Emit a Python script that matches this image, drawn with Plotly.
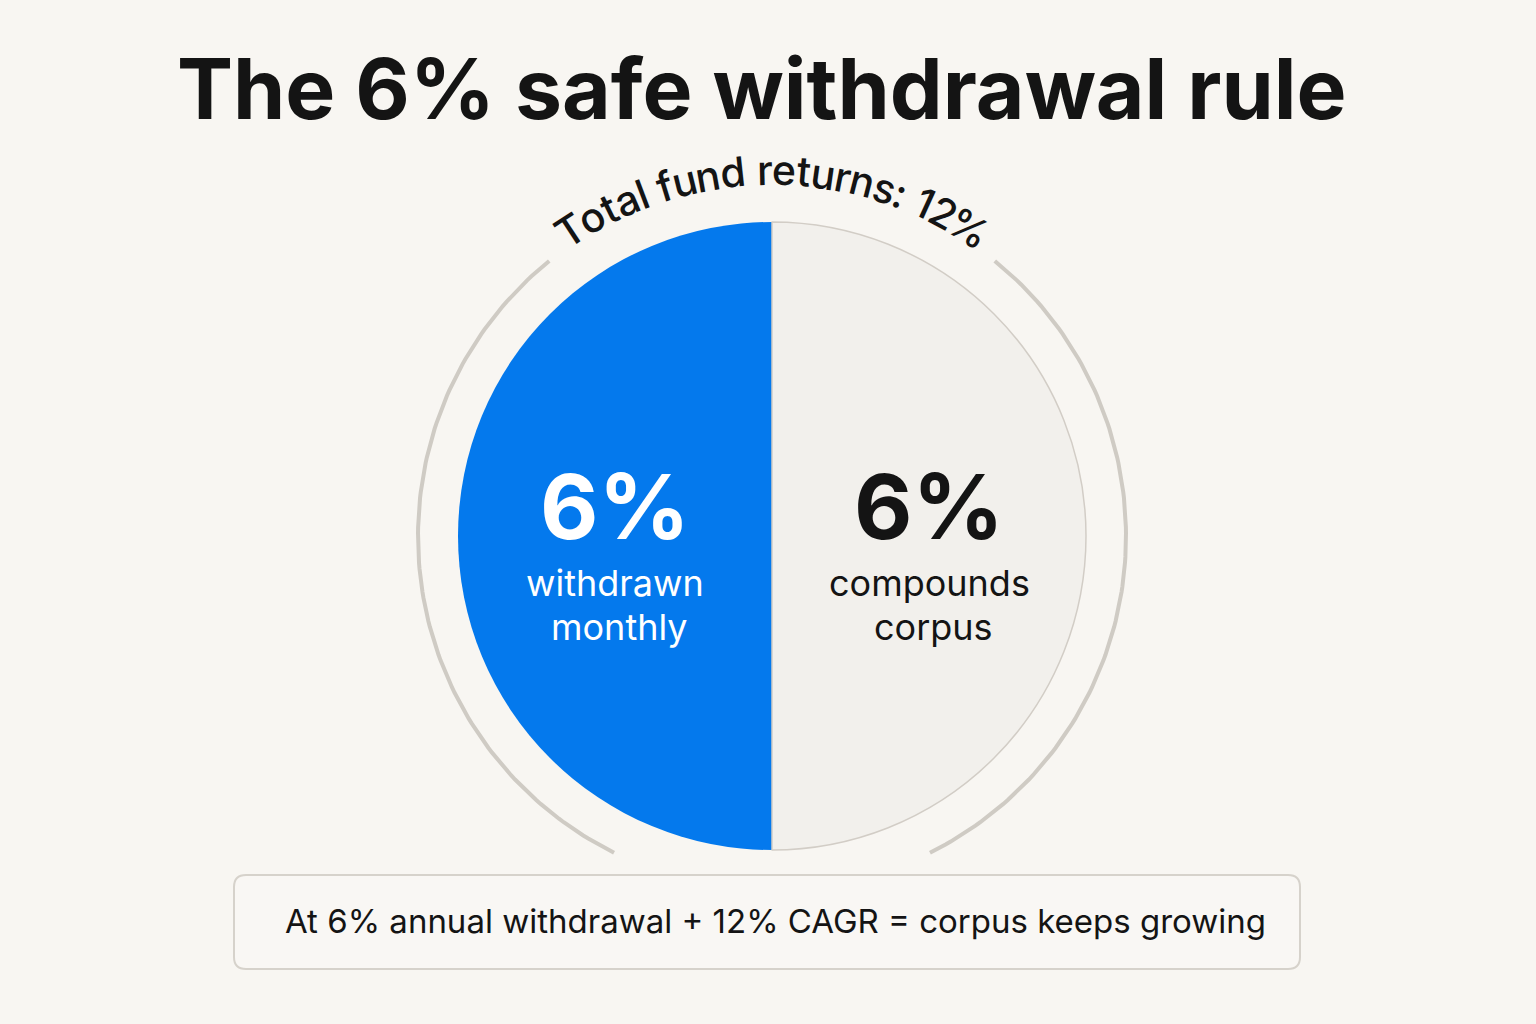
import math
import plotly.graph_objects as go

# ---------------- data ----------------
categories = ["withdrawn monthly", "compounds corpus"]
values = [6, 6]
total_return = 12
title_text = "The 6% safe withdrawal rule"
arc_label = "Total fund returns: 12%"
footer_text = "At 6% annual withdrawal + 12% CAGR = corpus keeps growing"

# ---------------- style ----------------
W, H = 1536, 1024
BG = "#f8f6f2"
BLUE = "#0479ED"
LIGHT = "#f2f0ec"
RING = "#cfcbc4"
FONT = "Inter"

cx, cy, R = 772, 536, 314          # pie centre / radius (pixels)
ring_r = 354

fig = go.Figure()

# pie
fig.add_trace(go.Pie(
    labels=categories, values=values, sort=False,
    direction="counterclockwise", rotation=180,
    marker=dict(colors=[BLUE, LIGHT], line=dict(color=[BLUE, "#d2cdc6"], width=[0, 1.5])),
    textinfo="none", hoverinfo="label+value", showlegend=False,
    domain=dict(x=[(cx - R) / W, (cx + R) / W], y=[1 - (cy + R) / H, 1 - (cy - R) / H]),
))

# outer ring arcs (angles clockwise from top, degrees)
def arc(a0, a1, r, n=120):
    xs, ys = [], []
    for i in range(n + 1):
        a = math.radians(a0 + (a1 - a0) * i / n)
        xs.append(cx + r * math.sin(a))
        ys.append(cy - r * math.cos(a))
    return xs, ys

for a0, a1 in [(39, 153.5), (206.5, 321)]:
    xs, ys = arc(a0, a1, ring_r)
    fig.add_trace(go.Scatter(x=xs, y=ys, mode="lines", line=dict(color=RING, width=4),
                             hoverinfo="skip", showlegend=False))

annotations = []

# title
annotations.append(dict(x=762, y=88, text=f"<b>{title_text}</b>", showarrow=False,
                        font=dict(family=FONT, size=84, color="#141414"), xanchor="center", yanchor="middle"))

# slice labels
text_colors = ["#ffffff", "#141414"]
total = sum(values)
start = 0.0
for lab, v, col in zip(categories, values, text_colors):
    span = 360 * v / total
    mid = -(start + span / 2)  # counterclockwise
    start += span
    lx = cx + 0.5 * R * math.sin(math.radians(mid))
    annotations.append(dict(x=lx, y=cy - 30, text=f"<b>{v}%</b>", showarrow=False,
                            font=dict(family=FONT, size=90, color=col), xanchor="center", yanchor="middle"))
    w1, w2 = lab.split(" ")
    annotations.append(dict(x=lx, y=cy + 47, text=w1, showarrow=False,
                            font=dict(family=FONT, size=36, color=col), xanchor="center", yanchor="middle"))
    annotations.append(dict(x=lx + 4, y=cy + 91, text=w2, showarrow=False,
                            font=dict(family=FONT, size=36, color=col), xanchor="center", yanchor="middle"))

# curved label along the ring
cw = {"T": 0.61, "o": 0.60, "t": 0.37, "a": 0.56, "l": 0.26, " ": 0.28, "f": 0.37,
      "u": 0.59, "n": 0.59, "d": 0.62, "r": 0.39, "e": 0.57, "s": 0.53, ":": 0.28,
      "1": 0.45, "2": 0.58, "%": 0.86}
fs = 41
rc = 366
widths = [cw.get(c, 0.55) * fs for c in arc_label]
tot_ang = sum(widths) / rc
ang = -tot_ang / 2
for c, w in zip(arc_label, widths):
    a = ang + (w / 2) / rc
    ang += w / rc
    if c == " ":
        continue
    annotations.append(dict(x=cx + rc * math.sin(a), y=cy - rc * math.cos(a), text=c,
                            textangle=math.degrees(a), showarrow=False,
                            font=dict(family=FONT, size=fs, color="#141414", weight=500),
                            xanchor="center", yanchor="middle"))

# footer
annotations.append(dict(x=775, y=921, text=footer_text, showarrow=False,
                        font=dict(family=FONT, size=33, color="#141414"), xanchor="center", yanchor="middle"))

x0, x1, y0, y1, rr = 234, 1300, 875, 969, 12
box_path = (f"M {x0+rr},{y0} L {x1-rr},{y0} Q {x1},{y0} {x1},{y0+rr} L {x1},{y1-rr} "
            f"Q {x1},{y1} {x1-rr},{y1} L {x0+rr},{y1} Q {x0},{y1} {x0},{y1-rr} "
            f"L {x0},{y0+rr} Q {x0},{y0} {x0+rr},{y0} Z")

fig.update_layout(
    width=W, height=H, margin=dict(l=0, r=0, t=0, b=0),
    paper_bgcolor=BG, plot_bgcolor=BG,
    xaxis=dict(range=[0, W], visible=False, fixedrange=True),
    yaxis=dict(range=[H, 0], visible=False, fixedrange=True),
    shapes=[dict(type="path", path=box_path, xref="x", yref="y",
                 line=dict(color="#d6d2cb", width=2), fillcolor="#f9f7f4", layer="below")],
    annotations=annotations,
)

fig.write_html("out.html")
